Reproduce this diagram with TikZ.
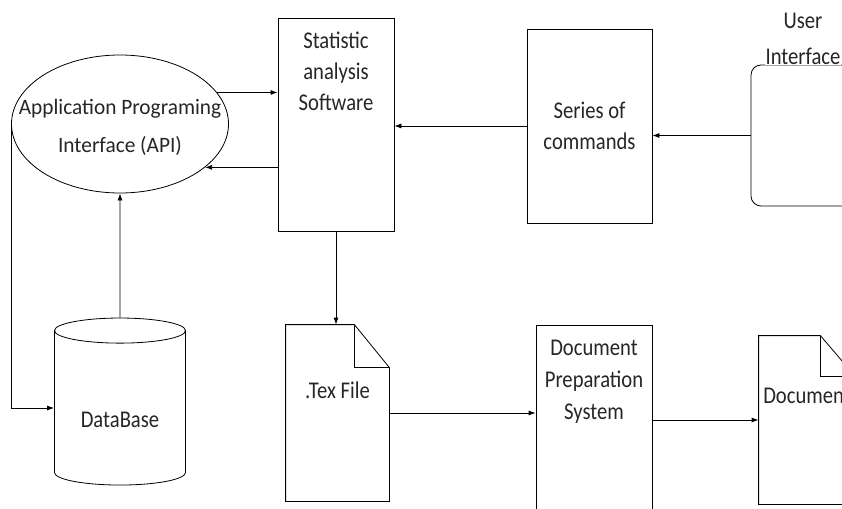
\documentclass[tikz,border=0pt]{standalone}
\usepackage{fontspec}
\setmainfont{Carlito}[FakeStretch=0.86]
\newfontfamily\apifont{Carlito}[FakeStretch=0.97]
\usetikzlibrary{shapes.geometric,arrows.meta}

\begin{document}
\begin{tikzpicture}[x=1pt, y=-1pt, line width=0.8pt,
        every node/.style = {align=center, text=black!85,
          font=\fontsize{24}{31}\selectfont},
        box/.style = {draw, rectangle, inner sep=0pt},
        page/.style = {rectangle, inner sep=0pt},
        arr/.style = {-{Latex[length=7pt,width=5pt]}}]
  \useasboundingbox (0,0) rectangle (842,508);

  \node[draw, ellipse, inner sep=0pt, minimum width=217pt, minimum height=138pt,
    label={[yshift=-3pt, font=\apifont\fontsize{22}{38}\selectfont]center:Application Programing\\Interface (API)}] (api) at (120,124) {};
  \node[draw, cylinder, shape border rotate=90, aspect=0.32, inner sep=0pt,
    minimum width=131pt, minimum height=167pt,
    label={[yshift=-12pt]center:DataBase}] (db) at (120,408) {\phantom{DataBase}};
  \node[box, minimum width=116pt, minimum height=213pt,
    label={[anchor=north, yshift=-11pt]north:Statistic\\analysis\\Software}] (stat) at (336,124.5) {};
  \node[box, minimum width=125pt, minimum height=194pt] (series) at (589.5,126) {Series of\\commands};
  \node[box, rounded corners=10pt, minimum width=104pt, minimum height=141pt,
    label={[fill=white, inner sep=1pt, yshift=-1pt, font=\fontsize{24}{36}\selectfont]north:User\\Interface}] (ui) at (803,135.5) {};
  \node[page, minimum width=103pt, minimum height=176pt,
    label={[yshift=23pt]center:.Tex File}] (tex) at (337.5,413) {};
  \node[box, minimum width=116pt, minimum height=210pt,
    label={[anchor=north, yshift=-12pt, font=\fontsize{24}{32}\selectfont]north:Document\\Preparation\\System}] (dps) at (594,430) {};
  \node[page, minimum width=96pt, minimum height=168pt,
    label={[yshift=24pt]center:Document}] (doc) at (807,420) {};

  % dog-eared pages
  \foreach \d/\fx/\fy in {tex/35/43, doc/35/41} {
    \draw (\d.north west) -- ([xshift=-\fx pt]\d.north east) -- ([yshift=-\fy pt]\d.north east)
      -- (\d.south east) -- (\d.south west) -- cycle;
    \draw ([xshift=-\fx pt]\d.north east) |- ([yshift=-\fy pt]\d.north east);
  }

  \draw[arr] (api.18) -- (api.18 -| stat.west);
  \draw[arr] (api.-27 -| stat.west) -- (api.-27);
  \draw[arr] (db) -- (api);
  \draw[arr] (api.west) |- (db.west);
  \draw[arr] (series.west) -- (series.west -| stat.east);
  \draw[arr] (ui.west) -- (ui.west -| series.east);
  \draw[arr] (stat.south) -- (stat.south |- tex.north);
  \draw[arr] (tex.east) -- (tex.east -| dps.west);
  \draw[arr] (doc.west -| dps.east) -- (doc.west);
\end{tikzpicture}
\end{document}
